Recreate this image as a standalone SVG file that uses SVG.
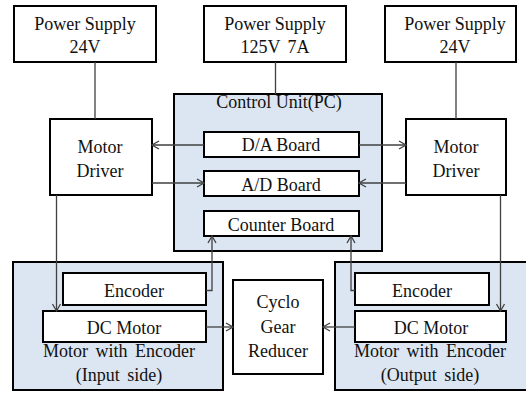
<svg xmlns="http://www.w3.org/2000/svg" width="526" height="394" viewBox="0 0 526 394">
<defs>
<marker id="arr" markerUnits="userSpaceOnUse" markerWidth="12" markerHeight="12" viewBox="-9 -6 12 12" refX="0" refY="0" orient="auto">
<path d="M-7,-4 L0,0 L-7,4" fill="none" stroke="#404040" stroke-width="1.3"/>
</marker>
</defs>
<style>
rect.box{fill:#ffffff;stroke:#000000;stroke-width:2}
rect.grp{fill:#dce6f2;stroke:#000000;stroke-width:2}
text{font-family:"Liberation Serif","Times New Roman",serif;font-size:18px;fill:#111111;text-anchor:middle}
.c line,.c polyline{fill:none;stroke:#404040;stroke-width:1.3}
</style>
<rect width="526" height="394" fill="#ffffff"/>
<g id="ps-left"><rect class="box" x="14" y="6" width="142" height="56"/><text x="85" y="30">Power Supply</text><text x="85" y="53">24V</text></g>
<g id="ps-mid"><rect class="box" x="204" y="6" width="142" height="56"/><text x="275" y="30">Power Supply</text><text x="275" y="53" word-spacing="3">125V 7A</text></g>
<g id="ps-right"><rect class="box" x="385" y="6" width="131" height="56"/><text x="455" y="30">Power Supply</text><text x="455" y="53">24V</text></g>
<g id="control-unit"><rect class="grp" x="174" y="94" width="208" height="157"/><text x="279" y="108">Control Unit(PC)</text></g>
<g id="da-board"><rect class="box" x="204" y="132" width="155" height="25"/><text x="281" y="151">D/A Board</text></g>
<g id="ad-board"><rect class="box" x="204" y="171" width="155" height="25"/><text x="281" y="191">A/D Board</text></g>
<g id="counter-board"><rect class="box" x="204" y="211" width="155" height="25"/><text x="281" y="231">Counter Board</text></g>
<g id="driver-left"><rect class="box" x="50" y="119" width="102" height="76"/><text x="100" y="153">Motor</text><text x="100" y="177">Driver</text></g>
<g id="driver-right"><rect class="box" x="406" y="119" width="100" height="76"/><text x="456" y="153">Motor</text><text x="456" y="177">Driver</text></g>
<g id="mwe-left"><rect class="grp" x="13" y="262" width="210" height="128"/><text x="119" y="357" word-spacing="3">Motor with Encoder</text><text x="119" y="381" word-spacing="3">(Input side)</text></g>
<g id="enc-left"><rect class="box" x="63" y="273" width="143" height="32"/><text x="134" y="297">Encoder</text></g>
<g id="dc-left"><rect class="box" x="43" y="311" width="163" height="31"/><text x="124" y="334">DC Motor</text></g>
<g id="cyclo"><rect class="box" x="233" y="280" width="90" height="94"/><text x="278" y="308">Cyclo</text><text x="278" y="333">Gear</text><text x="278" y="357">Reducer</text></g>
<g id="mwe-right"><rect class="grp" x="335" y="262" width="195" height="128"/><text x="430" y="357" word-spacing="3">Motor with Encoder</text><text x="430" y="381" word-spacing="3">(Output side)</text></g>
<g id="enc-right"><rect class="box" x="355" y="273" width="134" height="32"/><text x="422" y="297">Encoder</text></g>
<g id="dc-right"><rect class="box" x="355" y="311" width="151" height="31"/><text x="431" y="334">DC Motor</text></g>
<g id="connectors" class="c">
<line x1="95" y1="62" x2="95" y2="119"/>
<line x1="275.5" y1="62" x2="275.5" y2="94"/>
<line x1="456" y1="62" x2="456" y2="119"/>
<line x1="204" y1="145" x2="152" y2="145" marker-end="url(#arr)"/>
<line x1="359" y1="145" x2="406" y2="145" marker-end="url(#arr)"/>
<line x1="152" y1="183" x2="204" y2="183" marker-end="url(#arr)"/>
<line x1="406" y1="183" x2="359" y2="183" marker-end="url(#arr)"/>
<line x1="56.5" y1="195" x2="56.5" y2="311" marker-end="url(#arr)"/>
<line x1="500.5" y1="195" x2="500.5" y2="311" marker-end="url(#arr)"/>
<polyline points="206,290.5 212,290.5 212,236" marker-end="url(#arr)"/>
<polyline points="355,290.5 351,290.5 351,236" marker-end="url(#arr)"/>
<line x1="206" y1="327" x2="233" y2="327" marker-end="url(#arr)"/>
<line x1="355" y1="327" x2="323" y2="327" marker-end="url(#arr)"/>
</g>
</svg>
